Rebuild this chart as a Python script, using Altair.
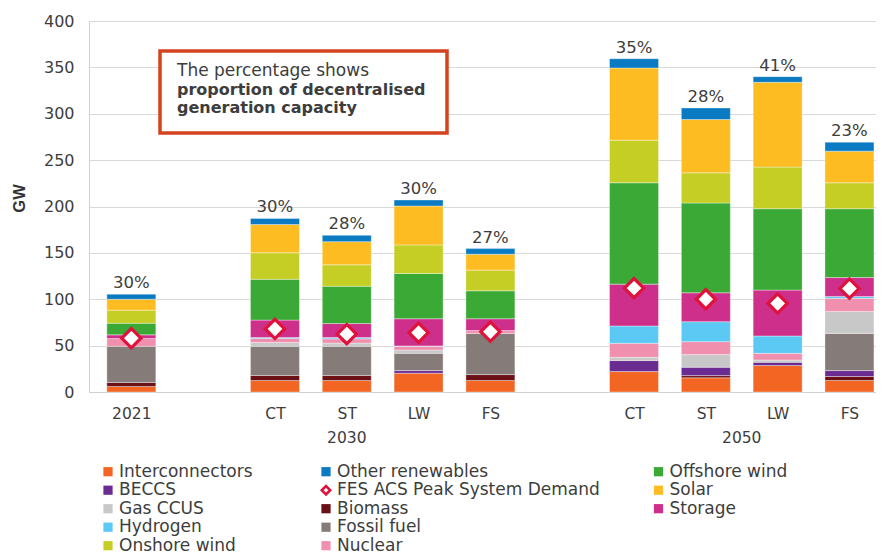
import altair as alt
import pandas as pd

# ---------------- data ----------------
scenarios = ["2021", "CT", "ST", "LW", "FS", "CT", "ST", "LW", "FS"]
years = ["2021", "2030", "2030", "2030", "2030", "2050", "2050", "2050", "2050"]
slots = [0, 2, 3, 4, 5, 7, 8, 9, 10]          # x slot of each bar (gaps between groups)

techs = ["Interconnectors", "Biomass", "BECCS", "Fossil fuel", "Gas CCUS", "Nuclear",
         "Hydrogen", "Storage", "Offshore wind", "Onshore wind", "Solar", "Other renewables"]
tech_colors = ["#F26522", "#6B1015", "#6A2C91", "#857C7A", "#C9C8C8", "#F090AE",
               "#5BC9F3", "#CD2F8A", "#3AA935", "#C5CE24", "#FDBD22", "#0A7BC2"]

interconnectors = [6.0, 12.4, 12.4, 20.2, 12.4, 22.0, 15.3, 28.5, 12.4]
biomass = [4.3, 5.4, 5.4, 0.0, 6.4, 0.0, 2.4, 0.0, 4.3]
beccs = [0.0, 0.0, 0.0, 2.9, 0.0, 11.9, 9.0, 3.5, 6.4]
fossil_fuel = [39.0, 31.5, 31.5, 18.6, 44.4, 0.0, 0.0, 0.0, 40.1]
gas_ccus = [0.0, 4.0, 3.5, 3.5, 0.0, 3.5, 13.6, 2.5, 23.7]
nuclear = [8.3, 4.5, 4.5, 4.0, 3.0, 15.1, 14.0, 7.2, 14.1]
hydrogen = [0.0, 1.0, 1.5, 0.5, 0.0, 18.7, 21.5, 18.7, 2.0]
storage = [4.0, 18.7, 15.0, 29.3, 12.8, 45.1, 31.2, 49.5, 20.4]
offshore_wind = [12.6, 44.0, 40.3, 48.8, 30.1, 109.3, 96.8, 87.7, 74.2]
onshore_wind = [14.0, 28.6, 23.0, 30.8, 22.3, 45.9, 32.5, 44.9, 28.0]
solar = [11.8, 30.5, 25.0, 41.9, 17.2, 77.8, 57.5, 91.4, 34.1]
other_renewables = [5.5, 6.5, 6.8, 6.5, 6.0, 10.1, 12.4, 6.1, 9.7]

peak_demand = [58.0, 68.0, 62.5, 64.0, 65.0, 112.0, 100.0, 95.5, 111.5]
decentralised_share = ["30%", "30%", "28%", "30%", "27%", "35%", "28%", "41%", "23%"]

group_labels = ["2030", "2050"]
group_label_slot = [3.0, 8.5]

legend_columns = [
    ["Interconnectors", "BECCS", "Gas CCUS", "Hydrogen", "Onshore wind"],
    ["Other renewables", "FES ACS Peak System Demand", "Biomass", "Fossil fuel", "Nuclear"],
    ["Offshore wind", "Solar", "Storage"],
]
DEMAND_LABEL = "FES ACS Peak System Demand"

# ---------------- tables ----------------
series = [interconnectors, biomass, beccs, fossil_fuel, gas_ccus, nuclear,
          hydrogen, storage, offshore_wind, onshore_wind, solar, other_renewables]
rows = []
for ti, (tech, vals) in enumerate(zip(techs, series)):
    for bi, v in enumerate(vals):
        if v > 0:
            rows.append({"slot": slots[bi], "scenario": scenarios[bi], "year": years[bi],
                         "tech": tech, "order": ti, "gw": v})
bars_df = pd.DataFrame(rows)

totals = [sum(s[i] for s in series) for i in range(len(slots))]
bar_df = pd.DataFrame({"slot": slots, "scenario": scenarios, "year": years,
                       "total": totals, "demand": peak_demand, "pct": decentralised_share})
group_df = pd.DataFrame({"label": group_labels, "slot": group_label_slot})

color_of = dict(zip(techs, tech_colors))
# layout of the hand-drawn legend (pixels relative to plot origin)
col_x = [19, 237, 569.5]
row_y0, row_dy = 450.7, 18.5
leg_rows = []
for ci, col in enumerate(legend_columns):
    for ri, name in enumerate(col):
        leg_rows.append({"label": name, "mx": col_x[ci], "tx": col_x[ci] + 11,
                         "y": row_y0 + ri * row_dy,
                         "color": color_of.get(name, "#ffffff"),
                         "is_demand": name == DEMAND_LABEL})
leg_df = pd.DataFrame(leg_rows)

# ---------------- chart ----------------
FONT = "DejaVu Sans"
TXT = "#3d3d3d"
W, H = 787, 371
xlabels = [""] * 11
for s, n in zip(slots, scenarios):
    xlabels[s] = n
label_expr = "[" + ",".join("'%s'" % l for l in xlabels) + "][datum.value]"

xscale = alt.Scale(domain=[-0.52, 10.3], nice=False, zero=False)
yscale = alt.Scale(domain=[0, 400], nice=False)

x_enc = alt.X("slot:Q", scale=xscale,
              axis=alt.Axis(values=slots, labelExpr=label_expr, grid=False, ticks=False,
                            tickSize=0, domainColor="#d0d0d0", labelFontSize=15.5,
                            labelPadding=14, labelColor=TXT, labelFont=FONT,
                            labelFlush=False, labelOverlap=False, title=None))

bars = alt.Chart(bars_df).mark_bar(size=49, stroke="white", strokeWidth=0.6,
                                   strokeOpacity=0.6).encode(
    x=x_enc,
    y=alt.Y("gw:Q", stack="zero", scale=yscale,
            axis=alt.Axis(values=list(range(0, 401, 50)), grid=True, gridColor="#d9d9d9",
                          domainColor="#d0d0d0", ticks=False, tickSize=0,
                          labelFontSize=16, labelPadding=15, labelColor=TXT, labelFont=FONT,
                          title="GW", titleFontSize=16.5, titleFontWeight="bold",
                          titleColor="#333333", titleFont="Liberation Sans", titleX=-70,
                          titleY=177, titleAlign="center", titleBaseline="middle")),
    color=alt.Color("tech:N", scale=alt.Scale(domain=techs, range=tech_colors), legend=None),
    order=alt.Order("order:Q", sort="ascending"),
)

pct = alt.Chart(bar_df).mark_text(dy=-6, baseline="alphabetic", fontSize=16.5,
                                  font=FONT, color=TXT).encode(
    x=alt.X("slot:Q", scale=xscale), y=alt.Y("total:Q", scale=yscale), text="pct:N")

diamonds = alt.Chart(bar_df).mark_point(shape="diamond", filled=True, fill="white",
                                        stroke="#E0123C", strokeWidth=3.2, size=370,
                                        opacity=1).encode(
    x=alt.X("slot:Q", scale=xscale), y=alt.Y("demand:Q", scale=yscale))

groups = alt.Chart(group_df).mark_text(baseline="alphabetic", fontSize=15.5, font=FONT,
                                       color=TXT).encode(
    x=alt.X("slot:Q", scale=xscale), y=alt.value(422), text="label:N")

note_df = pd.DataFrame({"line": ["The percentage shows", "proportion of decentralised",
                                 "generation capacity"],
                        "weight": ["normal", "bold", "bold"],
                        "ly": [50, 68.5, 87]})
note_box = alt.Chart(note_df.head(1)).mark_rect(fill="white", stroke="#D4441C",
                                                 strokeWidth=3.5).encode(
    x=alt.value(71), x2=alt.value(358), y=alt.value(30), y2=alt.value(112))
note_txt_n = alt.Chart(note_df[note_df.weight == "normal"]).mark_text(
    align="left", baseline="middle", fontSize=17, font=FONT, color=TXT).encode(
    x=alt.value(88), y=alt.Y("ly:Q", scale=None), text="line:N")
note_txt_b = alt.Chart(note_df[note_df.weight == "bold"]).mark_text(
    align="left", baseline="middle", fontSize=16, font=FONT, color=TXT,
    fontWeight="bold").encode(
    x=alt.value(88), y=alt.Y("ly:Q", scale=None), text="line:N")

leg_sq = alt.Chart(leg_df[~leg_df.is_demand]).mark_point(shape="square", filled=True,
                                                          size=85, opacity=1).encode(
    x=alt.X("mx:Q", scale=None), y=alt.Y("y:Q", scale=None),
    color=alt.Color("color:N", scale=None))
leg_dm = alt.Chart(leg_df[leg_df.is_demand]).mark_point(shape="diamond", filled=True,
                                                         fill="white", stroke="#E0123C",
                                                         strokeWidth=2.6, size=70,
                                                         opacity=1).encode(
    x=alt.X("mx:Q", scale=None), y=alt.Y("y:Q", scale=None))
leg_tx = alt.Chart(leg_df).mark_text(align="left", baseline="middle", fontSize=17,
                                     font=FONT, color=TXT).encode(
    x=alt.X("tx:Q", scale=None), y=alt.Y("y:Q", scale=None), text="label:N")

chart = alt.layer(
    bars, diamonds, pct, groups, note_box, note_txt_n, note_txt_b, leg_sq, leg_dm, leg_tx
).properties(
    width=W, height=H,
    autosize=alt.AutoSizeParams(type="none"),
    padding={"left": 81, "top": 13, "right": 0, "bottom": 163},
    background="white",
).configure_view(stroke=None).configure_text(font=FONT)

chart.save("out.html", embed_options={"renderer": "svg", "actions": False})
